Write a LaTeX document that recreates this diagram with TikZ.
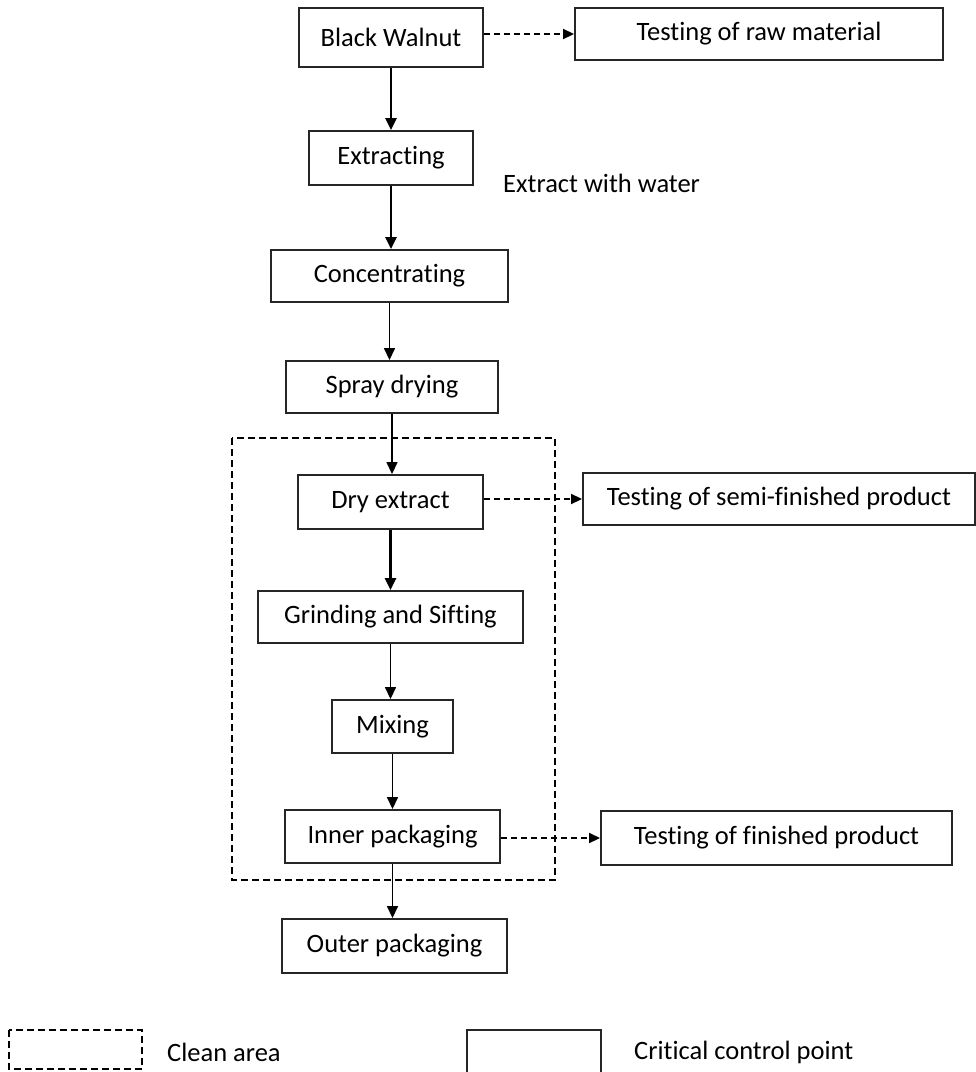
\documentclass[tikz,border=0pt]{standalone}
\usepackage{fontspec}
\setmainfont{Carlito}[Ligatures={NoCommon}]
\usetikzlibrary{arrows.meta}
\newcommand{\labfont}{\fontsize{26.5}{32}\selectfont}
\tikzset{
  ccp/.style={draw=black!85, line width=1.9pt, fill=white, inner sep=0pt, font=\labfont, align=center},
  flowthick/.style={line width=2.6pt, -{Triangle[length=12pt,width=11pt]}},
  flowthin/.style={line width=1.5pt, -{Triangle[length=12pt,width=11pt]}},
  testarrow/.style={line width=1.8pt, dash pattern=on 6pt off 4pt, -{Triangle[length=11pt,width=10pt]}},
  cleanline/.style={line width=1.5pt, dash pattern=on 7pt off 4pt},
  plain/.style={font=\labfont, inner sep=0pt}
}
\begin{document}
\begin{tikzpicture}[x=1pt,y=-1pt]
\useasboundingbox (0,0) rectangle (976,1072);
\clip (0,0) rectangle (976,1072);
\fill[white] (0,0) rectangle (976,1072);

% clean area
\draw[cleanline] (232,438) rectangle (555,880);

% main flow boxes
\node[ccp, minimum width=184pt, minimum height=59pt] (bw) at (391,37.5) {Black Walnut};
\node[ccp, minimum width=368pt, minimum height=52pt] (trm) at (759,34) {Testing of raw material};
\node[ccp, minimum width=164pt, minimum height=54pt] (ext) at (391,158) {Extracting};
\node[plain, anchor=west] (water) at (503,183) {Extract with water};
\node[ccp, minimum width=237pt, minimum height=52pt] (conc) at (389.5,276) {Concentrating};
\node[ccp, minimum width=212pt, minimum height=52pt] (spray) at (392,387) {Spray drying};
\node[ccp, minimum width=185pt, minimum height=54pt] (dry) at (390.5,502) {Dry extract};
\node[ccp, minimum width=392pt, minimum height=52pt] (tsf) at (779,499) {Testing of semi-finished product};
\node[ccp, minimum width=265pt, minimum height=52pt] (grind) at (390.5,617) {Grinding and Sifting};
\node[ccp, minimum width=121pt, minimum height=53pt] (mix) at (392.5,726.5) {Mixing};
\node[ccp, minimum width=215pt, minimum height=53pt] (inner) at (392.5,836.5) {Inner packaging};
\node[ccp, minimum width=351pt, minimum height=54pt] (tfp) at (776.5,838) {Testing of finished product};
\node[ccp, minimum width=225pt, minimum height=54pt] (outer) at (394.5,946) {Outer packaging};

% vertical flow arrows
\draw[flowthick] (bw.south) -- (bw.south |- ext.north);
\draw[flowthick] (ext.south) -- (ext.south |- conc.north);
\draw[flowthin] (conc.south) -- (conc.south |- spray.north);
\draw[flowthin] (spray.south) -- (spray.south |- dry.north);
\draw[flowthick] (dry.south) -- (dry.south |- grind.north);
\draw[flowthin] (grind.south) -- (grind.south |- mix.north);
\draw[flowthin] (mix.south) -- (mix.south |- inner.north);
\draw[flowthin] (inner.south) -- (inner.south |- outer.north);

% testing arrows
\draw[testarrow] (trm.west -| bw.east) -- (trm.west);
\draw[testarrow] (tsf.west -| dry.east) -- (tsf.west);
\draw[testarrow] (tfp.west -| inner.east) -- (tfp.west);

% legend
\draw[cleanline] (9,1030) rectangle (142,1069);
\node[plain, anchor=west] (lclean) at (167,1052) {Clean area};
\node[draw=black!85, line width=1.9pt, minimum width=134pt, minimum height=48pt, inner sep=0pt] (lccp) at (534,1054) {};
\node[plain, anchor=west] (lccptext) at (634,1052) {Critical control point};
\end{tikzpicture}
\end{document}
